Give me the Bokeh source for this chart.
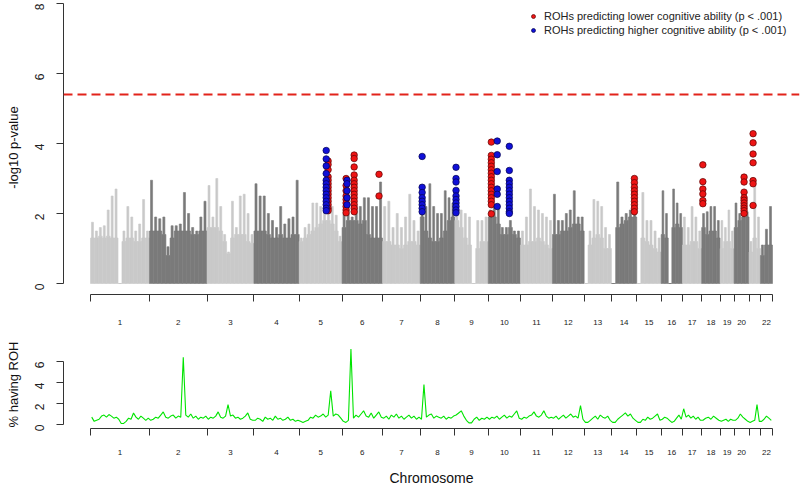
import math
import numpy as np
from bokeh.plotting import figure
from bokeh.models import (Range1d, LinearAxis, FixedTicker, Span, Legend,
                          LegendItem, ColumnDataSource)
from bokeh.layouts import column
from bokeh.embed import file_html
from bokeh.resources import INLINE

# ---------------- data ----------------
chrom_names = [str(i) for i in range(1, 23)]
chrom_len = [249, 243, 198, 191, 181, 171, 159, 146, 141, 136, 135, 134,
             115, 107, 103, 90, 81, 78, 59, 63, 48, 51]
chrom_tick_labels = ["1", "2", "3", "4", "5", "6", "7", "8", "9", "10", "11",
                     "12", "13", "14", "15", "16", "17", "18", "19", "20", "", "22"]

# bulk level of the -log10 p cloud, per chromosome bin
gw_dense = [
    [1.3, 1.3, 1.35, 1.3, 1.35, 1.3, 1.3, 0, 1.2, 1.3, 1.3, 1.2, 1.2, 1.3, 1.3],
    [1.5, 1.5, 1.5, 1.4, 0.8, 1.3, 1.5, 1.5, 1.5, 1.5, 1.4, 1.4, 1.5, 1.5],
    [1.6, 1.6, 1.6, 1.5, 1.2, 0.85, 1.3, 1.4, 1.4, 1.4, 1.2, 1.15],
    [1.5, 1.5, 1.5, 1.4, 1.3, 1.3, 1.4, 1.3, 1.3, 1.4, 1.4],
    [1.2, 1.3, 1.4, 1.5, 1.6, 1.7, 1.8, 1.8, 1.7, 1.5, 1.2],
    [1.6, 1.8, 1.8, 1.8, 1.7, 1.8, 1.4, 1.3, 1.3, 1.3],
    [1.2, 1.2, 1.1, 1.1, 1.0, 1.1, 1.2, 1.2, 1.1],
    [1.9, 1.5, 1.3, 1.2, 1.2, 1.3, 1.5, 1.8, 1.9],
    [1.8, 1.6, 1.3, 1.1, 0, 1.0, 1.2, 1.2],
    [1.9, 1.9, 1.7, 1.4, 1.4, 1.6, 1.4, 1.3],
    [1.1, 1.1, 1.2, 1.2, 1.3, 1.2, 1.1, 1.0],
    [1.4, 1.4, 1.5, 1.5, 1.6, 1.7, 1.7, 1.5],
    [0, 1.1, 1.3, 1.4, 1.3, 1.0, 1.0],
    [0, 1.6, 1.7, 1.8, 1.9, 1.9],
    [0, 1.3, 1.2, 1.1, 1.0, 0.9],
    [1.4, 1.3, 0, 1.6, 1.7, 1.6],
    [1.1, 1.1, 1.2, 1.2, 1.0],
    [1.6, 1.4, 1.5, 1.5, 1.3],
    [1.0, 1.2, 1.2, 1.0],
    [1.6, 1.8, 1.9, 1.9],
    [0.9, 1.3, 1.0],
    [0.8, 1.1, 1.1],
]
# highest -log10 p within each bin
gw_peak = [
    [1.75, 1.5, 1.6, 1.65, 2.1, 2.5, 2.7, 0, 1.5, 2.2, 1.9, 1.5, 1.7, 2.4, 1.5],
    [2.95, 1.9, 1.85, 1.9, 1.05, 1.65, 1.65, 1.7, 2.6, 2.0, 1.6, 1.5, 1.9, 2.35],
    [2.8, 1.9, 3.0, 2.2, 1.4, 0.9, 2.35, 1.6, 2.5, 2.55, 2.0, 1.4],
    [2.85, 2.5, 2.5, 2.0, 1.8, 1.6, 2.2, 1.7, 1.85, 1.9, 2.95],
    [1.3, 1.6, 1.7, 2.3, 2.3, 2.2, 2.1, 2.1, 2.2, 1.95, 1.35],
    [2.0, 2.0, 1.9, 2.2, 2.2, 2.45, 2.45, 2.2, 2.2, 2.9],
    [2.2, 2.35, 1.6, 2.0, 1.6, 1.9, 2.55, 1.8, 1.5],
    [2.1, 2.2, 2.85, 2.2, 2.0, 2.0, 2.65, 2.45, 2.3],
    [2.1, 2.1, 2.0, 1.9, 0, 1.8, 1.8, 1.9],
    [2.1, 2.2, 2.2, 1.6, 1.6, 1.8, 1.5, 1.5],
    [1.5, 1.9, 2.7, 2.2, 2.1, 2.0, 1.9, 1.8],
    [2.55, 1.8, 1.8, 2.0, 2.1, 2.65, 1.9, 1.9],
    [0, 1.5, 2.4, 2.35, 2.2, 1.6, 1.4],
    [0, 2.9, 1.9, 2.0, 2.1, 2.1],
    [0, 2.6, 1.8, 1.8, 1.5, 1.3],
    [2.65, 2.0, 0, 2.7, 2.3, 2.0],
    [1.9, 1.6, 2.2, 1.9, 1.5],
    [2.0, 2.05, 2.2, 2.2, 1.8],
    [1.8, 1.6, 2.1, 1.5],
    [2.3, 2.0, 2.1, 2.05],
    [1.2, 2.8, 1.9],
    [1.1, 1.55, 2.2],
]

# ROHs predicting lower cognitive ability (p < .001)
red_chrom = [5, 6, 6, 6, 10, 14, 18, 20, 21]
red_pos = [122, 17, 51, 156, 13, 97, 5, 42, 17]
red_logp = [
    [3.5, 3.4, 3.25, 3.05, 2.95, 2.85, 2.75, 2.65, 2.55, 2.45, 2.35, 2.25, 2.15, 2.08],
    [3.0, 2.8, 2.65, 2.5, 2.4, 2.3, 2.2, 2.1, 2.02],
    [3.67, 3.57, 3.33, 3.1, 2.95, 2.85, 2.75, 2.65, 2.55, 2.45, 2.35, 2.25, 2.15, 2.05],
    [3.12, 2.5],
    [4.04, 3.66, 3.55, 3.45, 3.35, 3.25, 3.15, 3.05, 2.95, 2.85, 2.75, 2.65, 2.55,
     2.45, 2.35, 2.25, 1.99],
    [3.0, 2.88, 2.75, 2.65, 2.55, 2.45, 2.35, 2.25, 2.15, 2.05],
    [3.39, 2.91, 2.7, 2.56, 2.37, 2.28],
    [3.04, 2.9, 2.61, 2.45, 2.38, 2.3, 2.22, 2.15, 2.08, 2.0],
    [4.28, 4.02, 3.7, 3.45, 2.94, 2.85, 2.23],
]
# ROHs predicting higher cognitive ability (p < .001)
blue_chrom = [5, 6, 8, 9, 10, 10]
blue_pos = [114, 21, 8, 5, 38, 89]
blue_logp = [
    [3.8, 3.56, 3.36, 3.14, 2.95, 2.85, 2.75, 2.65, 2.55, 2.45, 2.35, 2.25, 2.15, 2.08],
    [2.95, 2.85, 2.65, 2.45, 2.25],
    [3.63, 2.75, 2.6, 2.45, 2.35, 2.25, 2.15, 2.05],
    [3.32, 3.0, 2.9, 2.66, 2.5, 2.4, 2.3, 2.2, 2.1, 2.02],
    [4.07, 3.68, 3.2, 2.7, 2.55, 2.2],
    [3.92, 3.23, 2.95, 2.85, 2.75, 2.65, 2.55, 2.45, 2.35, 2.25, 2.15, 2.05, 2.0],
]
sig_threshold = 5.4

# % having ROH, per chromosome bin
roh_pct = [
    [0.7, 0.3, 0.4, 0.5, 0.8, 0.9, 0.7, 0.95, 0.8, 0.6, 0.7, 0.5, 0.1, 0.1, 0.3, 0.6,
     0.5, 1.1, 0.7, 0.5, 0.8, 0.6, 0.4, 0.6],
    [0.4, 0.5, 0.7, 0.6, 0.9, 1.2, 0.7, 0.6, 0.8, 0.9, 0.6, 0.8, 0.7, 6.4, 0.9, 0.7,
     1.0, 0.6, 0.8, 0.5, 0.7, 0.6, 0.8],
    [0.5, 0.7, 0.6, 0.8, 1.2, 0.7, 0.6, 0.8, 1.9, 0.8, 0.9, 0.6, 0.7, 0.5, 0.6, 0.8,
     1.1, 0.5, 0.4],
    [0.4, 0.6, 0.5, 0.3, 0.7, 0.5, 0.6, 0.4, 0.8, 0.5, 0.6, 0.4, 0.5, 0.7, 0.4, 0.5,
     0.3, 0.4],
    [0.3, 0.2, 0.3, 0.4, 0.7, 0.6, 0.9, 0.7, 0.8, 1.0, 0.7, 0.9, 3.2, 0.8, 1.0, 0.9, 0.6],
    [0.3, 0.2, 0.4, 7.2, 0.6, 0.9, 0.7, 1.0, 1.3, 0.8, 0.7, 1.1, 0.6, 0.9, 1.2, 0.7],
    [0.6, 0.8, 0.5, 0.9, 0.7, 1.0, 0.6, 0.8, 0.5, 0.7, 0.9, 0.6, 0.8, 0.5, 0.7],
    [0.5, 3.8, 0.7, 0.9, 1.0, 0.6, 0.8, 0.7, 0.6, 0.8, 0.5, 0.7, 0.6, 0.8],
    [0.9, 1.1, 1.3, 0.8, 0.4, 0.15, 0.15, 0.5, 0.7, 0.4, 0.6, 0.5, 0.7],
    [0.5, 0.7, 0.6, 0.8, 0.5, 0.7, 0.9, 0.6, 0.8, 0.7, 1.0, 1.3, 0.6],
    [0.5, 0.7, 0.6, 0.8, 0.9, 1.2, 0.8, 0.7, 0.9, 1.3, 0.8, 0.6, 0.7],
    [0.6, 0.8, 0.5, 0.7, 0.9, 0.6, 0.8, 1.0, 0.7, 0.8, 0.6, 1.8, 0.5],
    [0.2, 0.2, 0.4, 0.6, 0.8, 0.5, 0.9, 0.7, 0.6, 0.8, 0.4],
    [0.2, 0.2, 0.5, 0.7, 0.9, 1.1, 0.8, 1.0, 0.6, 0.4],
    [0.2, 0.2, 0.5, 0.4, 0.7, 0.5, 0.6, 0.8, 1.0, 0.4],
    [0.5, 0.7, 0.6, 0.4, 0.2, 0.3, 0.6, 0.9, 0.5],
    [1.5, 0.7, 0.9, 0.6, 0.8, 0.5, 0.7, 0.4],
    [0.4, 0.6, 0.7, 0.5, 0.8, 0.6, 0.4],
    [0.3, 0.4, 0.5, 0.3, 0.5, 0.4],
    [0.4, 0.6, 1.0, 0.7, 0.5, 0.3],
    [0.2, 0.3, 0.4, 1.9, 0.3],
    [0.3, 0.5, 0.8, 0.6, 0.4],
]

# ---------------- derived positions ----------------
FONT = "Liberation Sans"
LIGHT, DARK = "#C9C9C9", "#7A7A7A"
RED, BLUE = "#EE1414", "#1010D8"
AX = "#333333"

starts = np.concatenate([[0], np.cumsum(chrom_len)[:-1]]).astype(float)
total = float(np.sum(chrom_len))
boundaries = list(starts) + [total]
centers = [s + l / 2 for s, l in zip(starts, chrom_len)]
lab_ticks = [c for c, t in zip(centers, chrom_tick_labels) if t]
lab_over = {c: t for c, t in zip(centers, chrom_tick_labels) if t}

bx, bw, bd, bp, bc = [], [], [], [], []
for k in range(22):
    n = len(gw_dense[k])
    w = chrom_len[k] / n
    col = LIGHT if k % 2 == 0 else DARK
    for i in range(n):
        bx.append(starts[k] + (i + 0.5) * w)
        bw.append(w)
        bd.append(gw_dense[k][i])
        bp.append(max(gw_peak[k][i], gw_dense[k][i]))
        bc.append(col)
bars = ColumnDataSource(dict(x=bx, w=bw, wp=[v * 0.5 for v in bw], d=bd, p=bp, c=bc))


def flat(chroms, poss, vals):
    xs, ys = [], []
    for c, pos, vs in zip(chroms, poss, vals):
        for v in vs:
            xs.append(starts[c - 1] + pos)
            ys.append(v)
    return xs, ys


rx, ry = flat(red_chrom, red_pos, red_logp)
blx, bly = flat(blue_chrom, blue_pos, blue_logp)

gx, gy = [], []
for k in range(22):
    n = len(roh_pct[k])
    w = chrom_len[k] / n
    for i in range(n):
        gx.append(starts[k] + (i + 0.5) * w)
        gy.append(roh_pct[k][i])

# ---------------- layout ----------------
W = 800
LEFT = 63
RIGHT = 1
frame_w = W - LEFT - RIGHT
px_per_mb = 682.0 / total
x0 = -27.0 / px_per_mb
x1 = x0 + frame_w / px_per_mb
xr = Range1d(x0, x1)


def style_common(p):
    p.outline_line_color = None
    p.background_fill_color = "white"
    p.border_fill_color = "white"
    for g in p.ygrid:
        g.grid_line_color = None


def add_chrom_axes(p, standoff, with_label):
    a1 = LinearAxis(ticker=FixedTicker(ticks=boundaries), bounds=(0, total),
                    major_tick_out=7, major_tick_in=0, minor_tick_out=0, minor_tick_in=0,
                    axis_line_color=AX, major_tick_line_color=AX,
                    major_label_text_font_size="0px", major_label_text_alpha=0,
                    major_label_standoff=0)
    a2 = LinearAxis(ticker=FixedTicker(ticks=lab_ticks), major_label_overrides=lab_over,
                    axis_line_color=None, major_tick_line_color=None,
                    major_tick_out=0, major_tick_in=0, minor_tick_out=0, minor_tick_in=0,
                    major_label_standoff=standoff, major_label_text_font_size="8px",
                    major_label_text_font=FONT, major_label_text_color="#222222")
    if with_label:
        a2.axis_label = "Chromosome"
        a2.axis_label_text_font = FONT
        a2.axis_label_text_font_size = "14px"
        a2.axis_label_text_font_style = "normal"
        a2.axis_label_text_color = "#111111"
        a2.axis_label_standoff = 12
    p.add_layout(a1, "below")
    p.add_layout(a2, "below")


def style_y(p, ticks, bounds, label):
    ax = p.yaxis[0]
    ax.ticker = FixedTicker(ticks=ticks)
    ax.bounds = bounds
    ax.axis_line_color = AX
    ax.major_tick_line_color = AX
    ax.major_tick_out = 7
    ax.major_tick_in = 0
    ax.minor_tick_out = 0
    ax.minor_tick_in = 0
    ax.major_label_orientation = math.pi / 2
    ax.major_label_text_font = FONT
    ax.major_label_text_font_size = "12px"
    ax.major_label_text_color = "#222222"
    ax.major_label_standoff = 17
    ax.axis_label = label
    ax.axis_label_text_font = FONT
    ax.axis_label_text_font_size = "13px"
    ax.axis_label_text_font_style = "normal"
    ax.axis_label_text_color = "#111111"
    ax.axis_label_standoff = 7


# top panel
p1 = figure(width=W, height=334, x_range=xr, y_range=Range1d(-0.314, 8.086),
            x_axis_type=None, output_backend="svg", toolbar_location=None,
            min_border_left=LEFT, min_border_right=RIGHT, min_border_top=0,
            min_border_bottom=40)
style_common(p1)
style_y(p1, [0, 2, 4, 6, 8], (0, 8), "-log10 p-value")
add_chrom_axes(p1, 18, False)

p1.vbar(x="x", width="w", bottom=0, top="d", fill_color="c", line_color="c",
        line_width=0.6, source=bars)
p1.vbar(x="x", width="wp", bottom="d", top="p", fill_color="c", line_color="c",
        line_width=0.6, source=bars)
r_red = p1.scatter(rx, ry, size=6.5, fill_color=RED, line_color="#5A0505", line_width=0.7)
r_blue = p1.scatter(blx, bly, size=6.5, fill_color=BLUE, line_color="#05054A", line_width=0.7)

p1.add_layout(Span(location=sig_threshold, dimension="width", line_color="#E2231A",
                   line_width=2, line_dash="9 5"))

legend = Legend(items=[
    LegendItem(label="ROHs predicting lower cognitive ability (p < .001)", renderers=[r_red]),
    LegendItem(label="ROHs predicting higher cognitive ability (p < .001)", renderers=[r_blue]),
], location="top_right")
legend.border_line_color = None
legend.background_fill_alpha = 0
legend.label_text_font = FONT
legend.label_text_font_size = "11px"
legend.label_text_color = "#222222"
legend.glyph_width = 10
legend.glyph_height = 14
legend.label_height = 14
legend.label_width = 246
legend.label_standoff = 6
legend.spacing = 0
legend.padding = 0
legend.margin = 9
p1.add_layout(legend)

# bottom panel
p2 = figure(width=W, height=156, x_range=xr, y_range=Range1d(-0.381, 8.0),
            x_axis_type=None, output_backend="svg", toolbar_location=None,
            min_border_left=LEFT, min_border_right=RIGHT, min_border_top=6,
            min_border_bottom=62)
style_common(p2)
style_y(p2, [0, 2, 4, 6], (0, 6), "% having ROH")
add_chrom_axes(p2, 14, True)
p2.line(gx, gy, line_color="#00E400", line_width=1.1)

layout = column(p1, p2)
open("out.html", "w").write(file_html(layout, INLINE))
